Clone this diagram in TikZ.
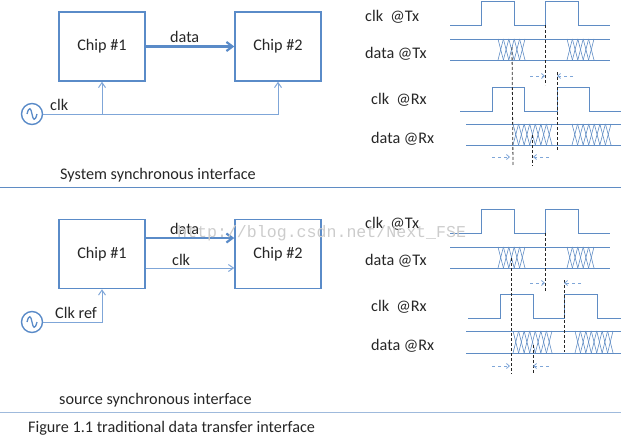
\documentclass[tikz,border=0pt]{standalone}
\usepackage{fontspec}
\setmainfont{Carlito}
\newfontfamily\markfont{Liberation Mono}
\usetikzlibrary{arrows.meta, positioning}

\definecolor{chipblue}{HTML}{5A8BC8}
\definecolor{wireblue}{HTML}{7FA6D8}
\definecolor{waveblue}{HTML}{5F8CC4}
\definecolor{inkgrey}{HTML}{262626}

% crosshatched data transition: x from, x to, y top, y bottom, cells
\newcommand{\hatchband}[5]{
  \pgfmathsetmacro{\cellw}{(#2-#1)/#5}
  \foreach \i in {1,...,#5} {
    \draw[hatch] ({#1+(\i-1)*\cellw},#3) -- ({#1+\i*\cellw},#4);
    \draw[hatch] ({#1+\i*\cellw},#3) -- ({#1+(\i-1)*\cellw},#4);
  }
}

\begin{document}
\begin{tikzpicture}[
    x=1pt, y=-1pt,
    every node/.style={text=inkgrey, font=\fontsize{16.2}{18}\selectfont, inner sep=0pt},
    chip/.style={rectangle, draw=chipblue, line width=1.5pt, minimum width=86pt, minimum height=69pt},
    osc/.style={circle, draw=chipblue, line width=1.4pt, minimum size=21pt},
    label/.style={anchor=west},
    bus/.style={-{Straight Barb[length=6pt, width=9pt]}, chipblue, line width=2.2pt},
    wire/.style={-{Straight Barb[length=5pt, width=7pt]}, wireblue, line width=1pt},
    rule/.style={waveblue, line width=0.9pt},
    wave/.style={waveblue, line width=1pt},
    hatch/.style={waveblue, line width=0.6pt},
    edge/.style={densely dashed, inkgrey, line width=0.8pt},
    skew/.style={-{Straight Barb[length=3pt, width=5pt]}, dashed, wireblue, line width=0.8pt},
]
\useasboundingbox (0,0) rectangle (621,447);

% Top block
\node[chip] (chipA) at (102,46.5) {Chip \#1};
\node[chip] (chipB) at (278,46.5) {Chip \#2};
\node[osc] (oscA) at (32,114) {};
\draw[chipblue, line width=1.3pt] (27,114) .. controls (29,106) and (31,108) .. (32,114) .. controls (33,120) and (35,122) .. (37,114);
\coordinate (tapA) at (chipA.south |- oscA);
\coordinate (tapB) at (chipB.south |- oscA);
\draw[bus] (chipA) -- node[above=3pt, pos=0.44] {data} (chipB);
\draw[wire] (oscA) -- (tapA) -- (chipA.south);
\draw[wire] (tapA) -- (tapB) -- (chipB.south);
\node[label] at (50,105) {clk};
\node[label] at (60,175) {System synchronous interface};
\draw[rule] (0,187) -- (621,187);

% Top timing
\node[label] at (365,17) {clk\ \ @Tx};
\node[label] at (365,54) {data @Tx};
\node[label] at (371,100) {clk\ \ @Rx};
\node[label] at (371,139) {data @Rx};
\draw[wave] (450,25) -| (481,1.5) -| (514,25) -| (545,1.5) -| (578,25) -- (610,25);
\draw[wave] (450,39) -- (610,39) (450,60) -- (610,60);
\hatchband{498}{525}{39}{60}{5}
\hatchband{567}{594}{39}{60}{5}
\draw[wave] (460,111) -| (492,87) -| (524,111) -| (557,87) -| (589,111) -- (621,111);
\draw[wave] (466,124) -- (621,124) (466,145) -- (621,145);
\hatchband{513}{552}{124}{145}{7}
\hatchband{572}{611}{124}{145}{7}
\draw[edge] (545,25) -- (545,85);
\draw[edge] (512,47) -- (513,166);
\draw[edge] (557,72) -- (557,150);
\draw[edge] (532,135) -- (532,166);
\draw[skew] (530,76) -- (545,76);
\draw[skew] (573,76) -- (557,76);
\draw[skew] (492,157) -- (510,157);
\draw[skew] (549,157) -- (533,157);

% Bottom block
\node[chip] (chipC) at (102,254) {Chip \#1};
\node[chip] (chipD) at (278,254) {Chip \#2};
\node[osc] (oscB) at (32,322) {};
\draw[chipblue, line width=1.3pt] (27,322) .. controls (29,314) and (31,316) .. (32,322) .. controls (33,328) and (35,330) .. (37,322);
\coordinate (tapC) at (chipC.south |- oscB);
\coordinate (busC) at (chipC.east |- 0,238);
\coordinate (busD) at (chipD.west |- 0,238);
\coordinate (clkC) at (chipC.east |- 0,268);
\coordinate (clkD) at (chipD.west |- 0,268);
\draw[bus] (busC) -- node[above=2pt, pos=0.44] {data} (busD);
\draw[wire] (clkC) -- node[above=2pt, pos=0.4] {clk} (clkD);
\draw[wire] (oscB) -- (tapC) -- (chipC.south);
\node[label] at (55,313) {Clk ref};
\node[label] at (59,400) {source synchronous interface};
\draw[rule, waveblue!60] (0,412) -- (621,412);
\node[label] at (28,428) {Figure 1.1 traditional data transfer interface};

% Bottom timing
\node[label] at (365,224) {clk\ \ @Tx};
\node[label] at (365,261) {data @Tx};
\node[label] at (371,307) {clk\ \ @Rx};
\node[label] at (371,346) {data @Rx};
\draw[wave] (450,233) -| (481,209) -| (514,233) -| (545,209) -| (578,233) -- (610,233);
\draw[wave] (450,247) -- (610,247) (450,268) -- (610,268);
\hatchband{498}{525}{247}{268}{5}
\hatchband{567}{594}{247}{268}{5}
\draw[wave] (468,318) -| (500,294) -| (533,318) -| (564,294) -| (597,318) -- (621,318);
\draw[wave] (466,331) -- (621,331) (466,353) -- (621,353);
\hatchband{513}{552}{331}{353}{7}
\hatchband{575}{613}{331}{353}{7}
\draw[edge] (545,233) -- (545,292);
\draw[edge] (511,258) -- (511,374);
\draw[edge] (564,280) -- (564,352);
\draw[edge] (533,345) -- (533,374);
\draw[skew] (530,283) -- (545,283);
\draw[skew] (581,283) -- (564,283);
\draw[skew] (492,366) -- (510,366);
\draw[skew] (549,366) -- (533,366);

% Watermark
\node[label, font=\markfont\fontsize{16.6}{18}\selectfont, text=black!20] at (177,233) {http://blog.csdn.net/Next\_FSE};

\end{tikzpicture}
\end{document}
